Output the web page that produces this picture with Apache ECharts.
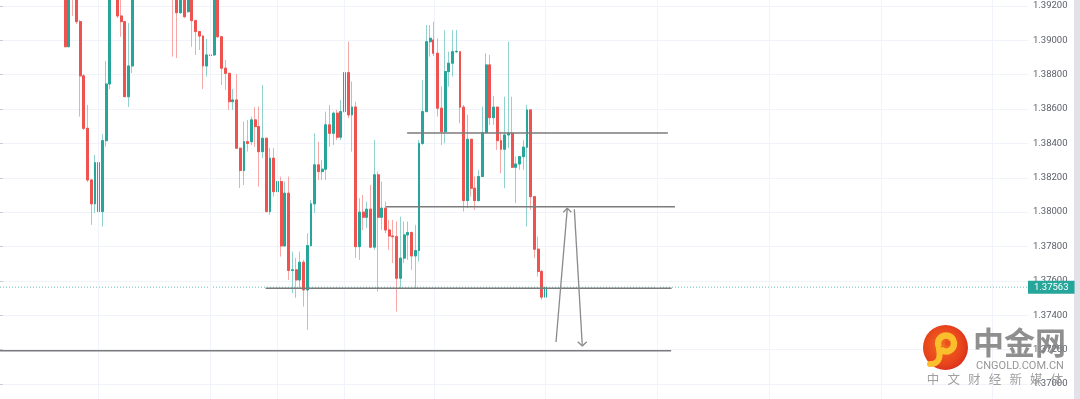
<!DOCTYPE html>
<html><head><meta charset="utf-8">
<script src="https://cdn.jsdelivr.net/npm/echarts@6/dist/echarts.min.js"></script>
<style>html,body{margin:0;padding:0;background:#fff;}#c{width:1080px;height:399px;}</style>
</head><body><div id="c"></div>
<script>
// ---- data (candles) ----
const slotCount = 276;                 // visible time slots incl. empty future
const categories = Array.from({length: slotCount}, (_, i) => String(i));
const firstIdx = 17;
const N = null;
const openP = [
 1.3930,1.38963,1.3931,1.3931,1.39109,1.38793,1.38488,1.38187,1.38048,1.38288,
 1.38003,1.38416,1.38746,N,1.3932,1.39142,1.39109,1.38672,1.38851,N,
 N,N,N,N,N,N,N,N,N,1.3933,
 1.3931,1.39161,1.3931,1.39167,1.3930,1.39115,1.39051,1.39025,1.38851,1.38915,
 1.38915,1.3930,1.39021,1.38838,1.38808,1.38643,1.38653,1.38372,1.38242,1.38410,
 1.38410,1.38537,1.38498,1.38352,1.38430,1.38003,1.38314,1.38119,1.38178,1.37803,
 1.38110,1.37660,1.37664,1.37605,1.37708,1.37547,1.37805,1.38048,1.38275,1.38236,
 1.38250,1.38508,1.38459,1.38576,1.38436,1.38585,1.38812,1.38566,1.38612,1.37799,
 1.38000,1.37970,1.38017,1.37796,1.38217,1.37970,1.38023,1.37896,1.37861,1.37857,
 1.37615,1.37732,1.37867,1.37881,1.37745,1.37776,1.38400,1.38585,1.38992,1.39002,
 1.38925,1.38605,1.38468,1.38818,1.38867,1.38934,1.38934,1.38611,1.38067,1.38424,
 1.38139,1.38067,1.38207,1.38463,1.38857,1.38550,1.38611,1.38416,1.38366,1.38449,
 1.38459,1.38261,1.38280,1.38323,1.38378,1.38595,1.38090,1.37784,1.37654,1.37505
];
const closeP = [
 1.38963,1.3930,1.3929,1.39109,1.38793,1.38488,1.38187,1.38048,1.38288,1.38003,
 1.38416,1.38746,1.3930,N,1.39142,1.39109,1.38672,1.38851,1.3931,N,
 N,N,N,N,N,N,N,N,N,1.3930,
 1.39161,1.3930,1.39138,1.3930,1.39115,1.39051,1.39025,1.38851,1.38915,1.38912,
 1.3930,1.39021,1.38838,1.38808,1.38643,1.38653,1.38372,1.38242,1.38410,1.38400,
 1.38537,1.38498,1.38352,1.38430,1.38003,1.38314,1.38119,1.38178,1.37803,1.38110,
 1.37660,1.37664,1.37605,1.37708,1.37547,1.37805,1.38048,1.38275,1.38236,1.38250,
 1.38508,1.38459,1.38576,1.38436,1.38585,1.38812,1.38566,1.38612,1.37799,1.38000,
 1.37970,1.38017,1.37796,1.38217,1.37970,1.38023,1.37896,1.37861,1.37857,1.37615,
 1.37732,1.37867,1.37881,1.37745,1.37776,1.38400,1.38585,1.38992,1.39012,1.38925,
 1.38605,1.38468,1.38818,1.38867,1.38934,1.38936,1.38611,1.38067,1.38424,1.38139,
 1.38067,1.38207,1.38463,1.38857,1.38550,1.38611,1.38416,1.38366,1.38449,1.38459,
 1.38261,1.38280,1.38323,1.38378,1.38595,1.38090,1.37784,1.37654,1.37505,1.37563
];
const lowP = [
 1.38960,1.38960,1.39142,1.39095,1.38556,1.38478,1.38176,1.37926,1.37995,1.37867,
 1.37916,1.38381,1.38717,N,1.39130,1.39021,1.38670,1.38612,1.38810,N,
 N,N,N,N,N,N,N,N,N,1.38905,
 1.38897,1.39154,1.39130,1.39160,1.38963,1.38915,1.38944,1.38717,1.38789,1.38769,
 1.38910,1.39015,1.38740,1.38711,1.38595,1.38595,1.38370,1.38141,1.38158,1.38352,
 1.38391,1.38381,1.38148,1.38314,1.38000,1.37984,1.38090,1.38112,1.37741,1.37799,
 1.37605,1.37528,1.37501,1.37559,1.37450,1.37314,1.37799,1.37995,1.38187,1.38187,
 1.38187,1.38381,1.38391,1.38420,1.38420,1.38547,1.38547,1.38352,1.37733,1.37722,
 1.37896,1.37906,1.37790,1.37780,1.37537,1.37896,1.37877,1.37780,1.37703,1.37421,
 1.37557,1.37703,1.37722,1.37664,1.37557,1.37712,1.38391,1.38585,1.38905,1.38909,
 1.38556,1.38391,1.38401,1.38730,1.38789,1.38925,1.38517,1.38003,1.38023,1.38090,
 1.38013,1.38061,1.38205,1.38460,1.38508,1.38508,1.38362,1.38226,1.38139,1.38372,
 1.38257,1.38052,1.38246,1.38246,1.37916,1.38013,1.37732,1.37625,1.37489,1.37500
];
const highP = [
 1.3935,1.3934,1.3934,1.3934,1.39119,1.38804,1.38624,1.38190,1.38333,1.38290,
 1.38455,1.38880,1.3935,N,1.3936,1.3930,1.39110,1.39101,1.3935,N,
 N,N,N,N,N,N,N,N,N,1.3936,
 1.3935,1.3934,1.3934,1.3934,1.3934,1.39120,1.39055,1.39030,1.39008,1.38927,
 1.3934,1.3934,1.39025,1.38886,1.38810,1.38717,1.38804,1.38375,1.38527,1.38537,
 1.38556,1.38611,1.38614,1.38740,1.38432,1.38374,1.38372,1.38345,1.38207,1.38178,
 1.38207,1.37770,1.37733,1.37770,1.37722,1.37877,1.38071,1.38459,1.38410,1.38304,
 1.38585,1.38624,1.38585,1.38595,1.38653,1.38896,1.38992,1.38760,1.38643,1.38081,
 1.38100,1.38061,1.38158,1.38420,1.38236,1.38178,1.38061,1.37955,1.37955,1.37945,
 1.37974,1.37945,1.37945,1.37887,1.37926,1.38420,1.38769,1.39089,1.39089,1.39109,
 1.39012,1.38730,1.39060,1.38934,1.39060,1.39060,1.38936,1.38624,1.38566,1.38426,
 1.38207,1.38246,1.38614,1.38925,1.38915,1.38676,1.38614,1.38468,1.38672,1.38992,
 1.38672,1.38323,1.38327,1.38420,1.38624,1.38597,1.38092,1.37857,1.37664,1.37625
];
const lastPrice = 1.37563;
const yTicks = {min: 1.368, max: 1.394, step: 0.002};
const timeGridIdx = [26, 56, 74, 92, 116, 146, 176, 206, 236, 266];
// drawn horizontal levels: [fromSlot, toSlot, price]
const levelLines = [
  [109.3, 179.3, 1.38461],
  [103.6, 181.2, 1.38031],
  [71.3, 180.3, 1.37556],
  [0, 180.2, 1.37193]
];
// drawn arrow path (slot, price)
const arrowUp = [[149.28, 1.37244], [152.31, 1.38022]];
const arrowUpHead = [[151.24, 1.37999], [152.31, 1.38022], [153.39, 1.37999]];
const arrowDown = [[154.2, 1.38016], [156.34, 1.37220]];
const arrowDownHead = [[155.10, 1.37245], [156.34, 1.37220], [157.52, 1.37245]];

// ---- build ----
const full = [], bodies = [];
for (let i = 0; i < firstIdx + openP.length; i++) {
  const k = i - firstIdx;
  if (k < 0 || openP[k] == null) { full.push(['-','-','-','-']); bodies.push(['-','-','-','-']); continue; }
  const o = openP[k], c = closeP[k];
  full.push([o, c, lowP[k], highP[k]]);
  bodies.push([o, c, Math.min(o, c), Math.max(o, c)]);
}
const UP = '#26a69a', DN = '#ef5350';
const drawSeries = [];
function addLine(data, color, width, extra) {
  drawSeries.push(Object.assign({type: 'line', xAxisIndex: 1, yAxisIndex: 0, data: data, symbol: 'none',
    silent: true, z: 5, lineStyle: {color: color, width: width}, emphasis: {disabled: true}}, extra || {}));
}
// last price dotted line with its price tag
addLine([[0, lastPrice], [slotCount, lastPrice]], UP, 1, {
  z: 4, lineStyle: {color: UP, width: 1, type: [1, 2], opacity: 0.7},
  endLabel: {show: true, distance: 0, formatter: () => lastPrice.toFixed(5), color: '#ffffff',
    backgroundColor: UP, padding: [2, 6, 1, 6], fontSize: 9.5, fontFamily: 'Roboto'}
});
levelLines.forEach(l => addLine([[l[0], l[2]], [l[1], l[2]]], '#7b7b7b', 1.5));
addLine(arrowUp, '#8a8a8a', 1.3);
addLine(arrowUpHead, '#8a8a8a', 1.3);
addLine(arrowDown, '#8a8a8a', 1.3);
addLine(arrowDownHead, '#8a8a8a', 1.3);

const chart = echarts.init(document.getElementById('c'), null, {renderer: 'canvas'});
const swirl = '#fbbf2e';
chart.setOption({
  animation: false,
  backgroundColor: '#ffffff',
  grid: {left: 0, right: 52, top: -28.35, bottom: -19.2, containLabel: false, outerBoundsMode: 'none'},
  xAxis: [
    {type: 'category', data: categories, boundaryGap: true, show: false},
    {type: 'value', min: 0, max: slotCount, show: false}
  ],
  yAxis: {
    type: 'value', position: 'right', min: yTicks.min, max: yTicks.max, interval: yTicks.step,
    axisLine: {show: false},
    axisTick: {show: true, length: 3, lineStyle: {color: '#c8cbd2'}},
    splitLine: {show: true, lineStyle: {color: '#f0f3fa', width: 1}},
    axisLabel: {margin: 5, color: '#5d606b', fontSize: 9.5, fontFamily: 'Roboto',
      formatter: v => v.toFixed(5)}
  },
  series: [
    {type: 'candlestick', name: 'wick', data: full, barWidth: 2.4, z: 2, silent: true, clip: true,
      itemStyle: {color: 'rgba(0,0,0,0)', color0: 'rgba(0,0,0,0)',
        borderColor: 'rgba(38,166,154,0.5)', borderColor0: 'rgba(239,83,80,0.5)', borderWidth: 1},
      markLine: {silent: true, symbol: ['none','none'], label: {show: false}, animation: false,
        lineStyle: {color: '#f0f3fa', width: 1, type: 'solid'},
        data: timeGridIdx.map(i => ({xAxis: i}))}
    },
    {type: 'candlestick', name: 'body', data: bodies, barWidth: 2.4, z: 3, silent: true, clip: true,
      itemStyle: {color: UP, color0: DN, borderColor: UP, borderColor0: DN, borderWidth: 1}
    }
  ].concat(drawSeries),
  graphic: [
    {type: 'rect', shape: {x: 1074, y: 0, width: 6, height: 399}, style: {fill: '#e1e3e9'}, silent: true},
    {type: 'circle', shape: {cx: 945.5, cy: 347.5, r: 22.5}, z: 100, silent: true,
      style: {fill: new echarts.graphic.RadialGradient(0.45, 0.45, 0.6,
        [{offset: 0, color: '#f26a21'}, {offset: 0.7, color: '#e8441c'}, {offset: 1, color: '#d52f1d'}])}},
    {type: 'arc', shape: {cx: 946, cy: 343.5, r: 8, startAngle: Math.PI * 0.85, endAngle: Math.PI * 2.75},
      z: 101, silent: true, style: {stroke: swirl, lineWidth: 6.5, fill: null}},
    {type: 'circle', shape: {cx: 947.5, cy: 343, r: 2.6}, z: 102, silent: true, style: {fill: '#e9501c'}},
    {type: 'bezierCurve', shape: {x1: 939, y1: 349, cpx1: 941, cpy1: 359, cpx2: 938, cpy2: 364, x2: 930, y2: 364},
      z: 101, silent: true, style: {stroke: swirl, lineWidth: 6, fill: null, lineCap: 'round'}},
    {type: 'text', x: 973, y: 327, z: 100, silent: true,
      style: {text: '中金网', fill: 'rgba(128,128,128,0.88)', fontSize: 31, fontWeight: 'bold',
        fontFamily: 'Noto Sans CJK SC', textAlign: 'left', textVerticalAlign: 'top'}},
    {type: 'text', x: 1020, y: 366.5, z: 100, silent: true,
      style: {text: 'CNGOLD.COM.CN', fill: 'rgba(140,140,140,0.9)', fontSize: 11,
        fontFamily: 'Roboto', textAlign: 'center', textVerticalAlign: 'middle'}}
  ].concat(['中','文','财','经','新','媒','体'].map((ch, k) => ({
      type: 'text', x: 933 + k * 20.67, y: 379.5, z: 100, silent: true,
      style: {text: ch, fill: 'rgba(150,150,150,0.9)', fontSize: 12.5, fontFamily: 'Noto Sans CJK SC',
        textAlign: 'center', textVerticalAlign: 'middle'}})))
});
</script></body></html>
